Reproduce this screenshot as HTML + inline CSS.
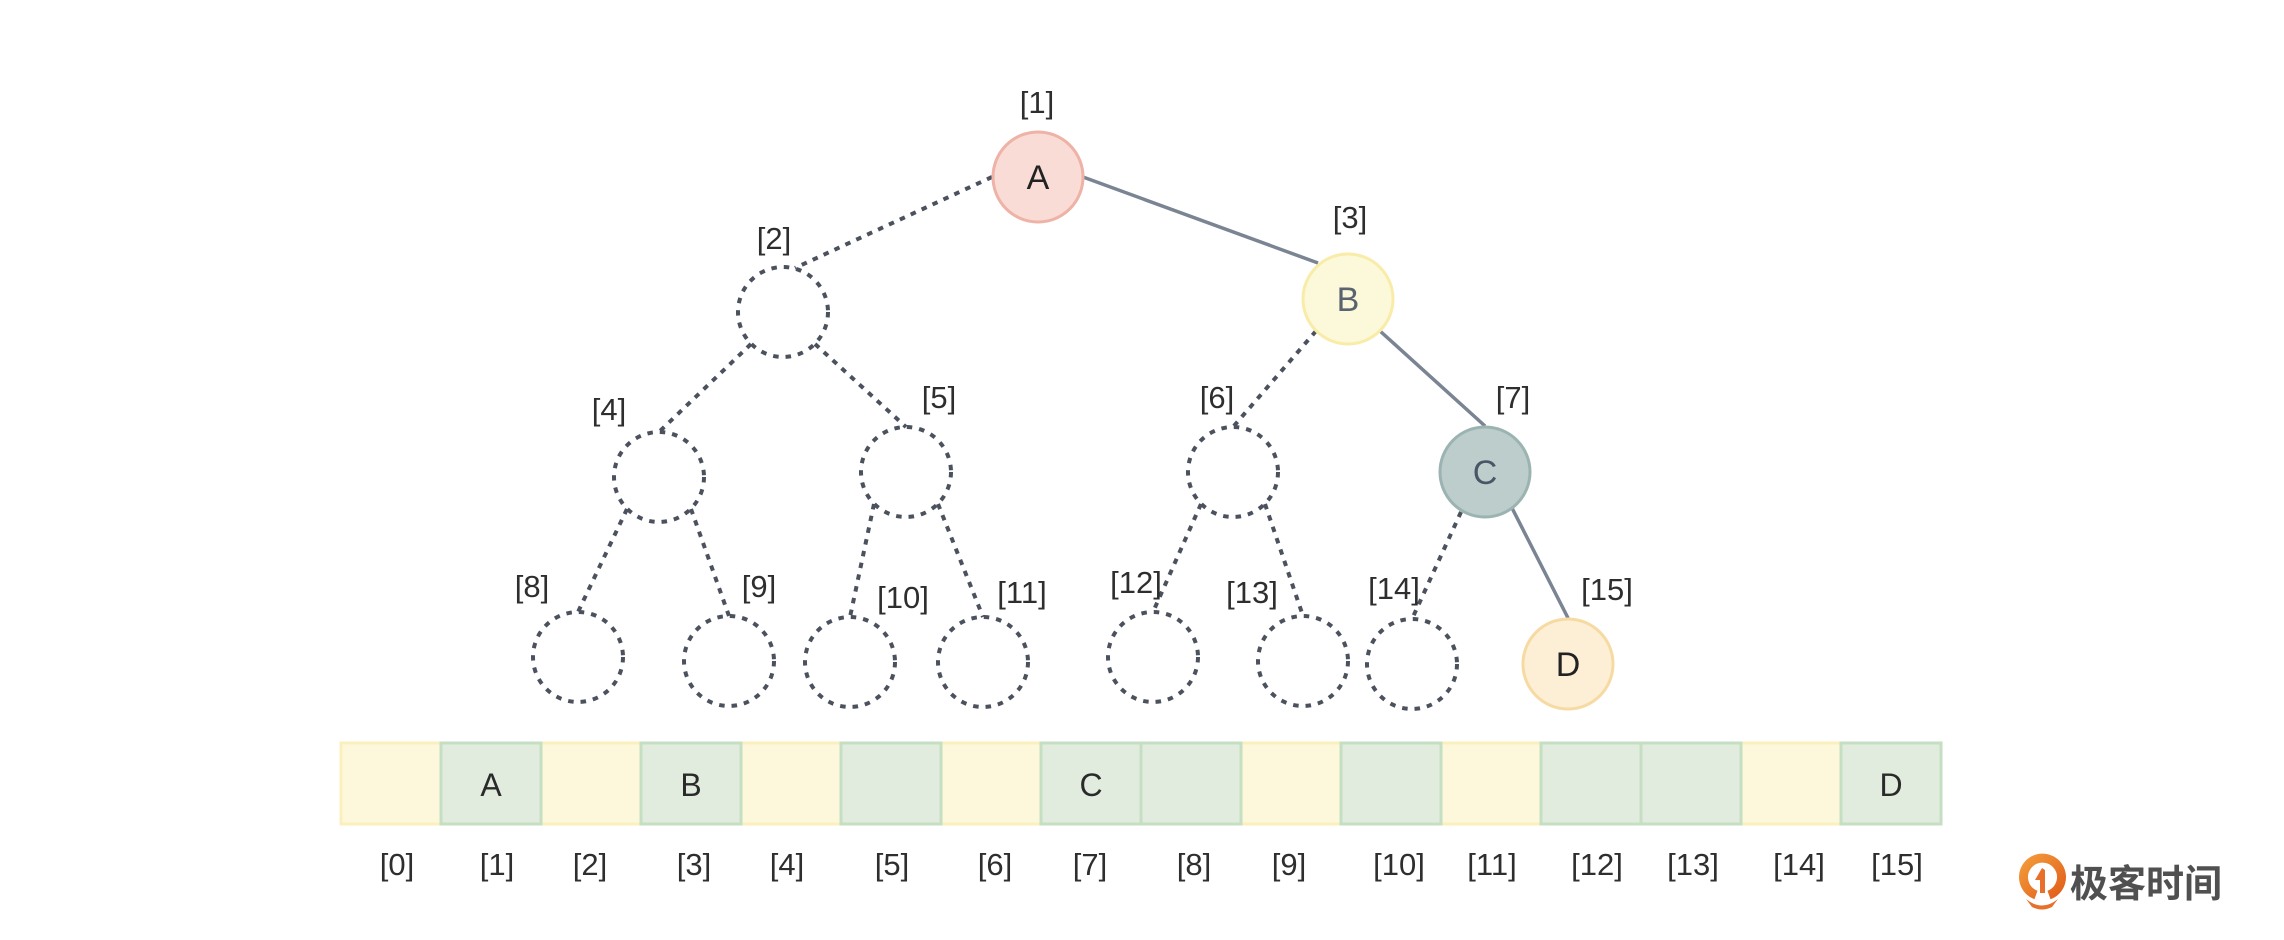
<!DOCTYPE html>
<html><head><meta charset="utf-8">
<style>
html,body{margin:0;padding:0;background:#fff;}
svg{display:block;}
text{font-family:"Liberation Sans",Arial,sans-serif;}
</style></head>
<body>
<svg width="2284" height="940" viewBox="0 0 2284 940" xmlns="http://www.w3.org/2000/svg">
<rect width="2284" height="940" fill="#fff"/>

<!-- edges dotted -->
<g stroke="#4b525d" stroke-width="4" stroke-dasharray="5.5 6.5" fill="none">
  <line x1="992" y1="177" x2="795" y2="268"/>
  <line x1="751" y1="344" x2="659" y2="432"/>
  <line x1="815" y1="344" x2="906" y2="427"/>
  <line x1="627" y1="509" x2="578" y2="612"/>
  <line x1="691" y1="509" x2="729" y2="616"/>
  <line x1="874" y1="504" x2="850" y2="617"/>
  <line x1="938" y1="504" x2="983" y2="617"/>
  <line x1="1316" y1="331" x2="1233" y2="427"/>
  <line x1="1201" y1="504" x2="1153" y2="612"/>
  <line x1="1265" y1="504" x2="1303" y2="616"/>
  <line x1="1461" y1="512" x2="1412" y2="619"/>
</g>
<!-- edges solid -->
<g stroke="#7a8492" stroke-width="3.5" fill="none">
  <line x1="1083" y1="177" x2="1318" y2="263"/>
  <line x1="1380" y1="331" x2="1485" y2="426"/>
  <line x1="1512" y1="508" x2="1568" y2="618"/>
</g>

<!-- empty dotted nodes -->
<g stroke="#4b525d" stroke-width="4" stroke-dasharray="5.5 7" fill="none">
  <circle cx="783" cy="312" r="45"/>
  <circle cx="659" cy="477" r="45"/>
  <circle cx="906" cy="472" r="45"/>
  <circle cx="1233" cy="472" r="45"/>
  <circle cx="578" cy="657" r="45"/>
  <circle cx="729" cy="661" r="45"/>
  <circle cx="850" cy="662" r="45"/>
  <circle cx="983" cy="662" r="45"/>
  <circle cx="1153" cy="657" r="45"/>
  <circle cx="1303" cy="661" r="45"/>
  <circle cx="1412" cy="664" r="45"/>
</g>

<!-- filled nodes -->
<circle cx="1038" cy="177" r="45" fill="#f9dcd6" stroke="#eeb2a6" stroke-width="3"/>
<circle cx="1348" cy="299" r="45" fill="#fcf8da" stroke="#f8eca8" stroke-width="3"/>
<circle cx="1485" cy="472" r="45" fill="#bccdcb" stroke="#9bb4b1" stroke-width="3"/>
<circle cx="1568" cy="664" r="45" fill="#fdefd6" stroke="#f6daa2" stroke-width="3"/>

<g font-size="34" text-anchor="middle">
  <text x="1038" y="189" fill="#222">A</text>
  <text x="1348" y="311" fill="#5a6470">B</text>
  <text x="1485" y="484" fill="#4a5665">C</text>
  <text x="1568" y="676" fill="#222">D</text>
</g>

<!-- tree labels -->
<g font-size="31" text-anchor="middle" fill="#2e2e2e">
  <text x="1037" y="113">[1]</text>
  <text x="774" y="249">[2]</text>
  <text x="1350" y="228">[3]</text>
  <text x="609" y="420">[4]</text>
  <text x="939" y="408">[5]</text>
  <text x="1217" y="408">[6]</text>
  <text x="1513" y="408">[7]</text>
  <text x="532" y="597">[8]</text>
  <text x="759" y="597">[9]</text>
  <text x="903" y="608">[10]</text>
  <text x="1022" y="603">[11]</text>
  <text x="1136" y="593">[12]</text>
  <text x="1252" y="603">[13]</text>
  <text x="1394" y="599">[14]</text>
  <text x="1607" y="600">[15]</text>
</g>

<!-- array cells: yellow first -->
<g fill="#fdf8dc" stroke="#fbefbd" stroke-width="3">
  <rect x="341" y="743" width="100" height="81"/>
  <rect x="541" y="743" width="100" height="81"/>
  <rect x="741" y="743" width="100" height="81"/>
  <rect x="941" y="743" width="100" height="81"/>
  <rect x="1241" y="743" width="100" height="81"/>
  <rect x="1441" y="743" width="100" height="81"/>
  <rect x="1741" y="743" width="100" height="81"/>
</g>
<g fill="#e1ecdf" stroke="#c4dfc1" stroke-width="3">
  <rect x="441" y="743" width="100" height="81"/>
  <rect x="641" y="743" width="100" height="81"/>
  <rect x="841" y="743" width="100" height="81"/>
  <rect x="1041" y="743" width="100" height="81"/>
  <rect x="1141" y="743" width="100" height="81"/>
  <rect x="1341" y="743" width="100" height="81"/>
  <rect x="1541" y="743" width="100" height="81"/>
  <rect x="1641" y="743" width="100" height="81"/>
  <rect x="1841" y="743" width="100" height="81"/>
</g>
<g font-size="32" text-anchor="middle" fill="#2a2a2a">
  <text x="491" y="796">A</text>
  <text x="691" y="796">B</text>
  <text x="1091" y="796">C</text>
  <text x="1891" y="796">D</text>
</g>

<!-- array index labels -->
<g font-size="31" text-anchor="middle" fill="#2e2e2e">
  <text x="397" y="875">[0]</text>
  <text x="497" y="875">[1]</text>
  <text x="590" y="875">[2]</text>
  <text x="694" y="875">[3]</text>
  <text x="787" y="875">[4]</text>
  <text x="892" y="875">[5]</text>
  <text x="995" y="875">[6]</text>
  <text x="1090" y="875">[7]</text>
  <text x="1194" y="875">[8]</text>
  <text x="1289" y="875">[9]</text>
  <text x="1399" y="875">[10]</text>
  <text x="1492" y="875">[11]</text>
  <text x="1597" y="875">[12]</text>
  <text x="1693" y="875">[13]</text>
  <text x="1799" y="875">[14]</text>
  <text x="1897" y="875">[15]</text>
</g>

<!-- logo -->
<defs>
  <linearGradient id="og" x1="0" y1="0" x2="1" y2="1">
    <stop offset="0" stop-color="#f39a3a"/>
    <stop offset="1" stop-color="#e2601c"/>
  </linearGradient>
</defs>
<g>
  <path d="M2036 895 A19 19 0 1 1 2049 895" fill="none" stroke="url(#og)" stroke-width="9"/>
  <path d="M2042 868 L2035 880 L2040 880 L2040 893 L2045 893 L2045 870 Z" fill="#e8702a"/>
  <path d="M2026 899 Q2042 912 2058 899 L2052 907 Q2042 912 2032 907 Z" fill="#e8702a"/>
</g>
<text x="2070" y="897" font-size="38" font-weight="700" fill="#505050" style='font-family:"Liberation Sans","Noto Sans CJK SC",sans-serif;'>极客时间</text>
</svg>
</body></html>
